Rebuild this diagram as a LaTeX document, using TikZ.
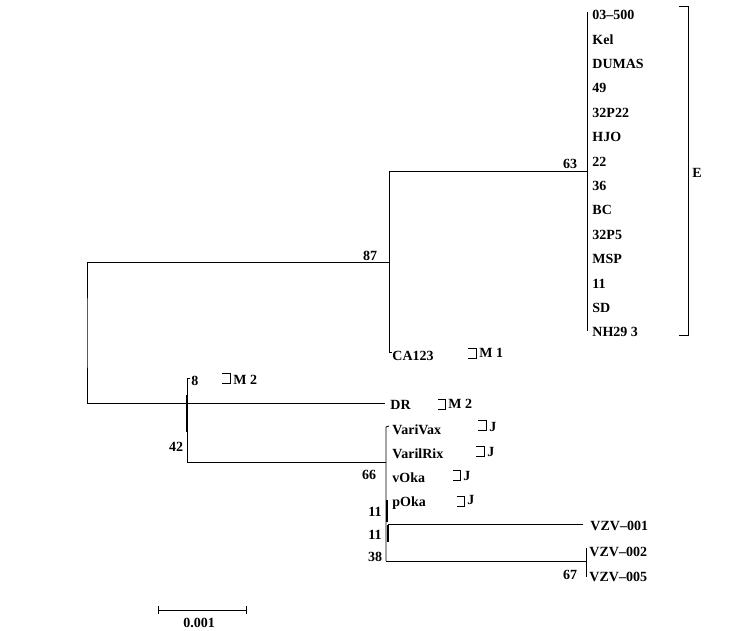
\documentclass[tikz,border=0pt]{standalone}
\usepackage{fontspec}
\setmainfont{Liberation Serif}
\begin{document}
\begin{tikzpicture}[x=1pt,y=-1pt, line width=0.9pt,
  lab/.style={font=\fontsize{14}{16}\selectfont\bfseries, inner sep=0pt, anchor=west},
  num/.style={font=\fontsize{14}{16}\selectfont\bfseries, inner sep=0pt},
  thickseg/.style={line width=2.2pt},
  brk/.style={line width=0.9pt}]
\useasboundingbox (0,0) rectangle (733,631);

% internal node coordinates
\coordinate (nA) at (389,262);
\coordinate (nAb) at (389,352);
\coordinate (nE) at (587,171);
\coordinate (eTop) at (587,12);
\coordinate (eBot) at (587,331);
\coordinate (root) at (87,333);
\coordinate (nB) at (187,403);
\coordinate (bTop) at (187,378);
\coordinate (bBot) at (187,462);
\coordinate (drEnd) at (385,403);
\coordinate (nJ) at (386,462);
\coordinate (jTop) at (386,427);
\coordinate (jBot) at (386,561);
\coordinate (nV) at (586,561);
\coordinate (vTop) at (586,548);
\coordinate (vBot) at (586,577);

% clade E tips
\foreach \t [count=\i from 0] in {03–500,Kel,DUMAS,49,32P22,HJO,22,36,BC,32P5,MSP,11,SD,NH29 3}{
  \node[lab] (e\i) at (592,{15+\i*24.4}) {\t};
}
\node[lab] (ca) at (392,356) {CA123};
\node[lab] (dr) at (390,405) {DR};
\node[lab] (vv) at (392,430) {VariVax};
\node[lab] (vr) at (392,454) {VarilRix};
\node[lab] (vo) at (392,478) {vOka};
\node[lab] (po) at (392,503) {pOka};
\node[lab] (z1) at (590,526) {VZV–001};
\node[lab] (z2) at (589,552) {VZV–002};
\node[lab] (z5) at (589,577) {VZV–005};

% support values
\node[num] (b63) at (570,164) {63};
\node[num] (b87) at (370,256) {87};
\node[num, anchor=west] (b8) at (191,381) {8};
\node[num] (b42) at (176,447) {42};
\node[num] (b66) at (369,475) {66};
\node[num] (b11a) at (375,512) {11};
\node[num] (b11b) at (375,535) {11};
\node[num] (b38) at (375,557) {38};
\node[num] (b67) at (570,575) {67};

% branches
\draw (nA) -| (root) |- (nB);
\draw (nE) -| (nAb) -- ++(3,0);
\draw (eTop) -- (eBot);
\draw (bTop) ++(3,0) -- (bTop) -- (bBot);
\draw[thickseg] (187,395) -- (187,432);
\draw (nB) -- (drEnd);
\draw (bBot) -- (nJ);
\draw (jTop) ++(3,-1) -- (jTop) -- (jBot);
\draw[thickseg] (387,500) -- (387,522);
\draw[thickseg] (388,525) -- (388,542);
\draw (388,524) -- (583,524) coordinate (z1end);
\draw (jBot) -- (nV);
\draw (vTop) -- (vBot);

% group brackets
\draw[brk] (468,348) -| (476,358) -- (468,358);
\node[lab] (m1) at (479,353) {M 1};
\draw[brk] (222,373) -| (230,383) -- (222,383);
\node[lab] (m2a) at (233,380) {M 2};
\draw[brk] (438,399) -| (445,409) -- (438,409);
\node[lab] (m2b) at (448,404) {M 2};
\draw[brk] (478,420) -| (486,430) -- (478,430);
\node[lab] (j1) at (489,427) {J};
\draw[brk] (476,446) -| (484,456) -- (476,456);
\node[lab] (j2) at (487,452) {J};
\draw[brk] (453,470) -| (460,480) -- (453,480);
\node[lab] (j3) at (463,476) {J};
\draw[brk] (457,496) -| (464,506) -- (457,506);
\node[lab] (j4) at (467,500) {J};
\draw[brk] (679,6) -| (688,335) -- (679,335);
\node[lab] (cE) at (692,173) {E};

% scale bar
\coordinate (sL) at (158,610);
\coordinate (sR) at (246,610);
\draw (sL) -- (sR);
\draw (158,606) -- (158,614);
\draw (246,606) -- (246,614);
\node[num] (sc) at (199,623) {0.001};
\end{tikzpicture}
\end{document}
